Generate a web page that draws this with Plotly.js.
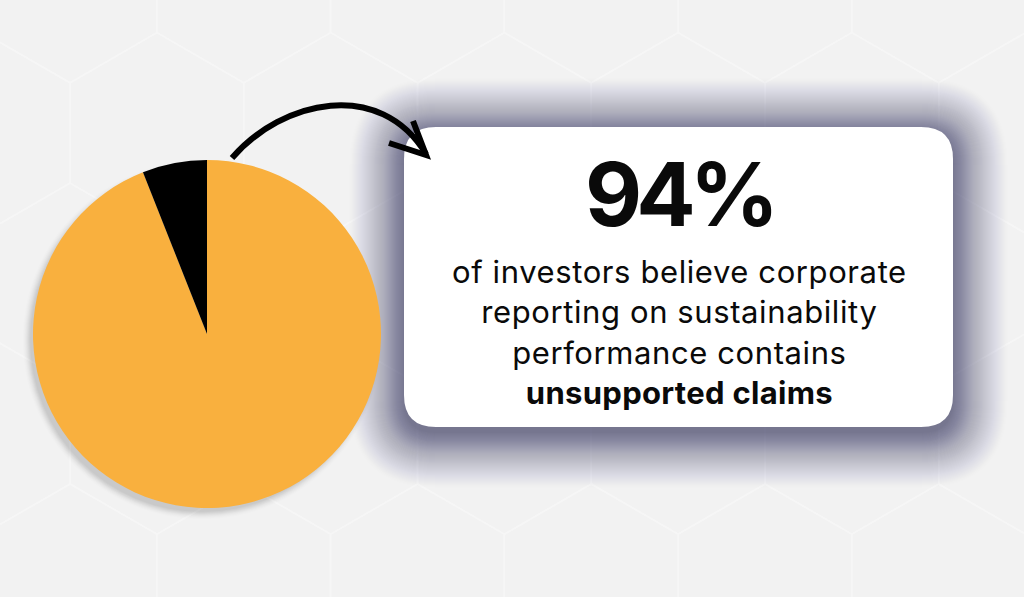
<!DOCTYPE html>
<html>
<head>
<meta charset="utf-8">
<script src="https://cdn.plot.ly/plotly-3.0.1.min.js"></script>
<style>
  html, body { margin: 0; padding: 0; background: #f2f2f2; }
  #chart { width: 1024px; height: 597px; }
</style>
</head>
<body>
<div id="chart"></div>
<script>
// ---- data ----
const sliceLabels = ['Believe reporting contains unsupported claims', 'Other investors'];
const sliceValues = [94, 6];
const sliceColors = ['#F9B03E', '#000000'];
const headline = '94%';
const bodyLines = ['of investors believe corporate', 'reporting on sustainability', 'performance contains'];
const boldLine = 'unsupported claims';

// ---- helpers (decoration geometry in pixel space) ----
const W = 1024, H = 597;
function rr(x0, y0, x1, y1, r) {
  return `M ${x0 + r} ${y0} L ${x1 - r} ${y0} Q ${x1} ${y0} ${x1} ${y0 + r} ` +
         `L ${x1} ${y1 - r} Q ${x1} ${y1} ${x1 - r} ${y1} L ${x0 + r} ${y1} ` +
         `Q ${x0} ${y1} ${x0} ${y1 - r} L ${x0} ${y0 + r} Q ${x0} ${y0} ${x0 + r} ${y0} Z`;
}
const shapes = [];

// hexagon background pattern
const s = 100.3, hw = s * Math.sqrt(3) / 2;
for (let r = 0; r < 6; r++) {
  const cy = -17.5 + r * 1.5 * s;
  const x0 = (r % 2 === 1) ? 157 : 70;
  for (let k = -1; k < 7; k++) {
    const cx = x0 + k * 2 * hw;
    const p = `M ${cx} ${cy - s} L ${cx + hw} ${cy - s / 2} L ${cx + hw} ${cy + s / 2} L ${cx} ${cy + s} ` +
              `L ${cx - hw} ${cy + s / 2} L ${cx - hw} ${cy - s / 2} Z`;
    shapes.push({type: 'path', xref: 'x', yref: 'y', path: p, layer: 'below',
      line: {color: '#f6f6f6', width: 1.5}, fillcolor: 'rgba(0,0,0,0)'});
  }
}

// layered soft shadow helper: target cumulative alpha peak*(1-d/ext)^p
function softLayers(ext, peak, p, mk) {
  let prev = 0;
  for (let e = ext; e >= 0; e--) {
    const c = peak * Math.pow(1 - e / ext, p);
    const a = 1 - (1 - c) / (1 - prev);
    prev = c;
    if (a > 0.0005) mk(e, a);
  }
}

// soft pie shadow (lower-left)
softLayers(9, 0.16, 1.6, (e, a) => shapes.push({type: 'circle', xref: 'x', yref: 'y', layer: 'below',
  x0: 202 - 172 - e, x1: 202 + 172 + e, y0: 340 - 172 - e, y1: 340 + 172 + e,
  line: {width: 0}, fillcolor: '#000000', opacity: a}));

// box shadow
const bx0 = 404, by0 = 127, bx1 = 953, by1 = 427, br = 32;
softLayers(56, 0.6, 1.3, (e, a) => shapes.push({type: 'path', xref: 'x', yref: 'y', layer: 'below',
  path: rr(bx0 - e, by0 - e + 6, bx1 + e, by1 + e + 6, br + e),
  line: {width: 0}, fillcolor: '#3e3c60', opacity: a}));

// white card
shapes.push({type: 'path', xref: 'x', yref: 'y', layer: 'below',
  path: rr(bx0, by0, bx1, by1, br), line: {width: 0}, fillcolor: '#ffffff'});

// curved arrow
shapes.push({type: 'path', xref: 'x', yref: 'y', layer: 'above',
  path: 'M 232 158 C 282 100, 380 78, 426 154',
  line: {color: '#000000', width: 6}, fillcolor: 'rgba(0,0,0,0)'});
shapes.push({type: 'path', xref: 'x', yref: 'y', layer: 'above',
  path: 'M 389 143 L 426 155 L 413 121',
  line: {color: '#000000', width: 6}, fillcolor: 'rgba(0,0,0,0)'});

// ---- traces ----
const traces = [
  {type: 'scatter', x: [], y: [], hoverinfo: 'skip', showlegend: false},
  {type: 'pie', labels: sliceLabels, values: sliceValues, sort: false,
   direction: 'clockwise', rotation: 0,
   marker: {colors: sliceColors, line: {width: 0}},
   textinfo: 'none', hoverinfo: 'label+percent', showlegend: false,
   domain: {x: [33 / W, 381 / W], y: [1 - 508 / H, 1 - 160 / H]}}
];

const layout = {
  width: W, height: H,
  margin: {l: 0, r: 0, t: 0, b: 0, pad: 0},
  paper_bgcolor: '#f2f2f2', plot_bgcolor: 'rgba(0,0,0,0)',
  showlegend: false,
  xaxis: {range: [0, W], visible: false, fixedrange: true},
  yaxis: {range: [H, 0], visible: false, fixedrange: true},
  shapes: shapes,
  annotations: [
    {xref: 'x', yref: 'y', x: 679, y: 194, xanchor: 'center', yanchor: 'middle',
     text: '<span style="letter-spacing:-6px">' + headline + '</span>', showarrow: false,
     font: {family: 'Inter, "Open Sans", sans-serif', size: 88, weight: 700, color: '#0a0a0a'}},
    {xref: 'x', yref: 'y', x: 679, y: 332, xanchor: 'center', yanchor: 'middle',
     align: 'center', showarrow: false,
     text: bodyLines.map(l => '<span style="letter-spacing:0.6px">' + l + '</span>').join('<br>') +
           '<br><b><span style="letter-spacing:0.3px">' + boldLine + '</span></b>',
     font: {family: 'Inter, "Open Sans", sans-serif', size: 31, color: '#0a0a0a'}}
  ]
};

Plotly.newPlot('chart', traces, layout, {displayModeBar: false, staticPlot: true});
</script>
</body>
</html>
